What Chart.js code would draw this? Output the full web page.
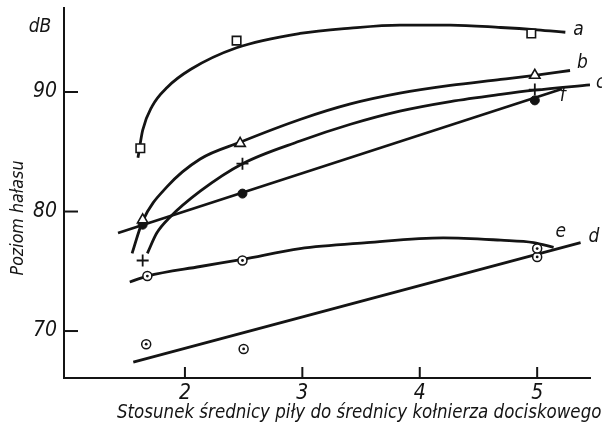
<!DOCTYPE html>
<html><head><meta charset="utf-8">
<script src="https://cdn.jsdelivr.net/npm/chart.js@4/dist/chart.umd.min.js"></script>
<style>html,body{margin:0;padding:0;background:#fff;}</style>
</head><body>
<canvas id="c" width="602" height="428" style="display:block;width:602px;height:428px"></canvas>
<script>
// ---- data ----
const xTicks = [2, 3, 4, 5];
const yTicks = [70, 80, 90];

// curve a (squares)
const aLineX = [1.60, 1.64, 1.72, 1.85, 2.05, 2.44, 2.98, 3.41, 3.83, 4.26, 4.69, 5.00, 5.24];
const aLineY = [84.5, 86.8, 88.8, 90.4, 91.9, 93.7, 94.9, 95.35, 95.6, 95.6, 95.4, 95.2, 95.0];
const aPtsX = [1.62, 2.44, 4.95];
const aPtsY = [85.3, 94.3, 94.9];

// curve b (triangles)
const bLineX = [1.55, 1.64, 1.85, 2.13, 2.47, 2.98, 3.41, 3.83, 4.26, 4.69, 4.98, 5.28];
const bLineY = [76.5, 79.2, 82.1, 84.4, 85.8, 87.7, 89.0, 89.9, 90.55, 91.05, 91.4, 91.8];
const bPtsX = [1.64, 2.47, 4.98];
const bPtsY = [79.3, 85.7, 91.4];

// curve c (plus signs)
const cLineX = [1.68, 1.76, 1.87, 2.13, 2.49, 2.98, 3.41, 3.83, 4.26, 4.69, 4.98, 5.45];
const cLineY = [76.5, 78.2, 79.5, 81.7, 84.0, 85.9, 87.3, 88.4, 89.2, 89.8, 90.15, 90.6];
const cPtsX = [1.64, 2.49, 4.98];
const cPtsY = [75.9, 84.0, 90.2];

// line f (filled dots)
const fLineX = [1.43, 5.21];
const fLineY = [78.2, 90.25];
const fPtsX = [1.64, 2.49, 4.98];
const fPtsY = [78.9, 81.5, 89.3];

// curve e (dotted circles)
const eLineX = [1.53, 1.68, 2.13, 2.49, 2.98, 3.55, 4.20, 4.69, 4.97, 5.14];
const eLineY = [74.1, 74.6, 75.4, 76.0, 76.9, 77.4, 77.8, 77.6, 77.4, 77.0];
const ePtsX = [1.68, 2.49, 5.00];
const ePtsY = [74.6, 75.9, 76.9];

// line d (dotted circles)
const dLineX = [1.56, 5.37];
const dLineY = [67.4, 77.4];
const dPtsX = [1.67, 2.50, 5.00];
const dPtsY = [68.9, 68.5, 76.2];

const seriesNames = ['a', 'b', 'c', 'f', 'e', 'd'];
const yUnit = 'dB';
const yTitle = 'Poziom hałasu';
const xTitle = 'Stosunek średnicy piły do średnicy kołnierza dociskowego';

// ---- build ----
const INK = '#141414';
const FONT = '"Liberation Sans Narrow", "DejaVu Sans Condensed", "Liberation Sans", sans-serif';
const pts = (xs, ys) => xs.map((x, i) => ({x, y: ys[i]}));

function lineDs(xs, ys) {
  return {data: pts(xs, ys), showLine: true, pointRadius: 0, borderColor: INK,
          borderWidth: 2.8, cubicInterpolationMode: 'monotone', order: 2, fill: false};
}
function markDs(xs, ys, style, r, fillColor, bw) {
  return {data: pts(xs, ys), showLine: false, pointStyle: style, pointRadius: r,
          pointBackgroundColor: fillColor, pointBorderColor: INK, pointBorderWidth: bw, order: 1};
}

const datasets = [
  lineDs(aLineX, aLineY), lineDs(bLineX, bLineY), lineDs(cLineX, cLineY),
  lineDs(fLineX, fLineY), lineDs(eLineX, eLineY), lineDs(dLineX, dLineY),
  markDs(aPtsX, aPtsY, 'rect', 6, '#fff', 1.6),
  markDs(bPtsX, bPtsY, 'triangle', 6, '#fff', 1.6),
  markDs(cPtsX, cPtsY, 'cross', 6, '#fff', 1.8),
  markDs(fPtsX, fPtsY, 'circle', 4.5, INK, 1),
  markDs(ePtsX, ePtsY, 'circle', 4.5, '#fff', 1.5),
  markDs(dPtsX, dPtsY, 'circle', 4.5, '#fff', 1.5),
  Object.assign(markDs(ePtsX, ePtsY, 'circle', 1.4, INK, 0), {order: 0}),
  Object.assign(markDs(dPtsX, dPtsY, 'circle', 1.4, INK, 0), {order: 0}),
];

const lineEnds = [[aLineX, aLineY], [bLineX, bLineY], [cLineX, cLineY], [fLineX, fLineY], [eLineX, eLineY], [dLineX, dLineY]];
const labelOffsets = [[8, -2], [7, -7], [6, -2], [-2, 7], [2, -15], [8, -6]];

function fitFont(ctx, text, target, base) {
  ctx.font = 'italic ' + base + 'px ' + FONT;
  const w = ctx.measureText(text).width;
  return base * target / w;
}

const decor = {
  id: 'decor',
  afterDraw(chart) {
    const {ctx, chartArea: ca, scales: {x, y}} = chart;
    ctx.save();
    ctx.strokeStyle = INK; ctx.lineWidth = 2;
    // inward tick marks
    xTicks.forEach(v => { const px = x.getPixelForValue(v); ctx.beginPath(); ctx.moveTo(px, ca.bottom); ctx.lineTo(px, ca.bottom - 11); ctx.stroke(); });
    yTicks.forEach(v => { const py = y.getPixelForValue(v); ctx.beginPath(); ctx.moveTo(ca.left, py); ctx.lineTo(ca.left + 14, py); ctx.stroke(); });
    ctx.fillStyle = INK;
    // series labels
    ctx.textAlign = 'left'; ctx.textBaseline = 'middle';
    ctx.font = 'italic 19px ' + FONT;
    seriesNames.forEach((n, i) => {
      const [xs, ys] = lineEnds[i];
      const px = x.getPixelForValue(xs[xs.length - 1]);
      const py = y.getPixelForValue(ys[ys.length - 1]);
      ctx.fillText(n, px + labelOffsets[i][0], py + labelOffsets[i][1]);
    });
    // unit
    ctx.font = 'italic 19px ' + FONT;
    ctx.textAlign = 'center';
    ctx.fillText(yUnit, 40, 27);
    // x title
    const xs = fitFont(ctx, xTitle, 485, 20);
    ctx.font = 'italic ' + xs.toFixed(2) + 'px ' + FONT;
    ctx.textAlign = 'left';
    ctx.fillText(xTitle, 117, 413);
    // y title
    const ys = fitFont(ctx, yTitle, 115, 17);
    ctx.font = 'italic ' + ys.toFixed(2) + 'px ' + FONT;
    ctx.translate(18, 218); ctx.rotate(-Math.PI / 2);
    ctx.textAlign = 'center';
    ctx.fillText(yTitle, 0, 0);
    ctx.restore();
  }
};

new Chart(document.getElementById('c'), {
  type: 'scatter',
  data: {datasets},
  options: {
    responsive: false, animation: false, devicePixelRatio: 1,
    layout: {padding: {left: 0, right: 12, top: 8, bottom: 0}},
    plugins: {legend: {display: false}, tooltip: {enabled: false}},
    scales: {
      x: {
        type: 'linear', min: 0.97, max: 5.45,
        afterBuildTicks: s => { s.ticks = xTicks.map(v => ({value: v})); },
        afterFit: s => { s.height = 50; s.paddingLeft = 0; s.paddingRight = 0; },
        grid: {display: true, drawOnChartArea: false, drawTicks: false},
        border: {display: true, color: INK, width: 2},
        ticks: {color: INK, padding: 3, font: {family: FONT, size: 21, style: 'italic'}, callback: v => String(v)}
      },
      y: {
        type: 'linear', min: 66.07, max: 97.03,
        afterBuildTicks: s => { s.ticks = yTicks.map(v => ({value: v})); },
        afterFit: s => { s.width = 64; s.paddingTop = 0; s.paddingBottom = 0; },
        grid: {display: true, drawOnChartArea: false, drawTicks: false},
        border: {display: true, color: INK, width: 2},
        ticks: {color: INK, padding: 7, font: {family: FONT, size: 21, style: 'italic'}, callback: v => String(v)}
      }
    }
  },
  plugins: [decor]
});
</script>
</body></html>
